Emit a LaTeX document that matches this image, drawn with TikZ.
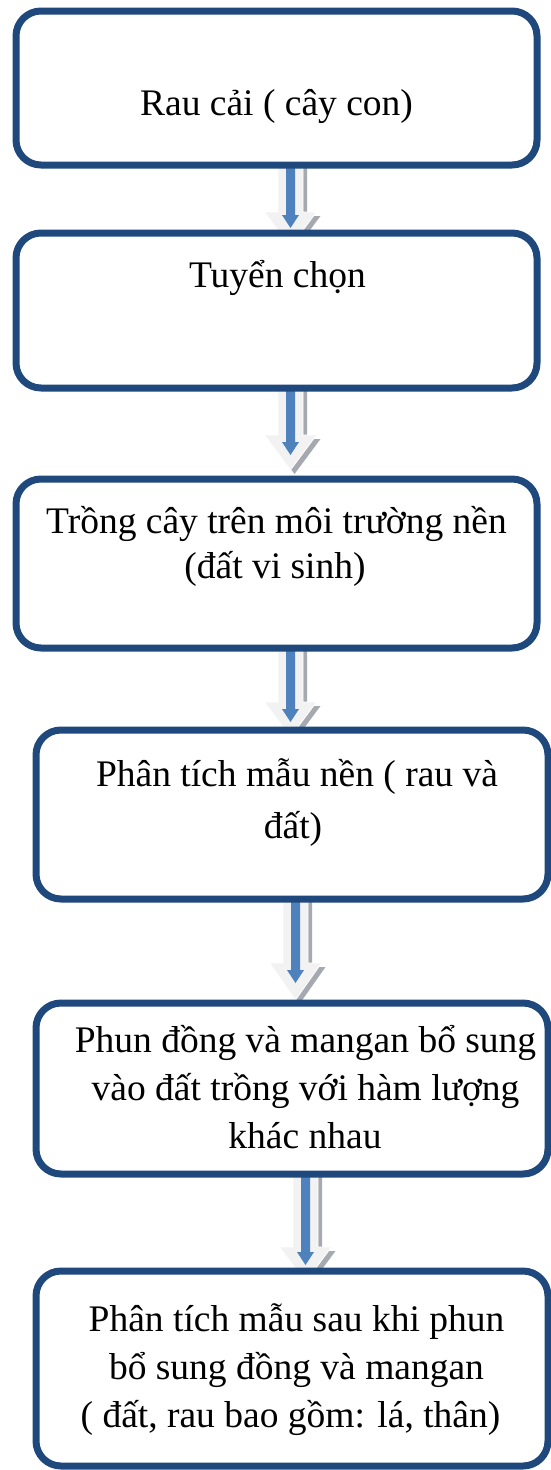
\documentclass[tikz,border=0pt]{standalone}
\usepackage{fontspec}
\setmainfont{Liberation Serif}
\definecolor{boxblue}{HTML}{1F497D}
\definecolor{arrblue}{HTML}{4F81BD}
\definecolor{arrfill}{HTML}{F2F2F2}
\definecolor{arrshadow}{HTML}{A6AAB0}
\newcommand{\flowarrow}[5]{%
  % #1 cx, #2 top, #3 head start, #4 tip, #5 blue tip
  \fill[arrshadow] ({#1-12.5+4},#2) -- ({#1+12.5+4},#2) -- ({#1+12.5+4},{#3+4}) -- ({#1+26+4},{#3+4}) -- ({#1+4},{#4+4}) -- ({#1-26+4},{#3+4}) -- ({#1-12.5+4},{#3+4}) -- cycle;
  \fill[arrfill,draw=white,line width=0.8] ({#1-12.5},#2) -- ({#1+12.5},#2) -- ({#1+12.5},#3) -- ({#1+26},#3) -- (#1,#4) -- ({#1-26},#3) -- ({#1-12.5},#3) -- cycle;
  \fill[arrblue] ({#1-4.5},#2) -- ({#1+4.5},#2) -- ({#1+4.5},{#5-13}) -- ({#1+8.5},{#5-13}) -- (#1,#5) -- ({#1-8.5},{#5-13}) -- ({#1-4.5},{#5-13}) -- cycle;
}
\begin{document}
\begin{tikzpicture}[x=1pt,y=-1pt,
  box/.style={draw=boxblue,line width=7pt,rounded corners=25pt,fill=white,inner sep=0pt,outer sep=0pt},
  txt/.style={anchor=base,inner sep=0pt,font=\fontsize{37.5}{45}\selectfont}]
\useasboundingbox[fill=white] (0,0) rectangle (551,1470);
% arrows (drawn first, boxes cover their tips)
\flowarrow{290.5}{165}{212}{247}{228}
\flowarrow{290.5}{388}{435}{470}{455}
\flowarrow{290.5}{648}{702}{737}{722}
\flowarrow{295.5}{899}{963}{1000}{983}
\flowarrow{305.5}{1174}{1247}{1282}{1265}
% boxes
\node[box,minimum width=521pt,minimum height=154pt] (b1) at (276.5,88) {};
\node[box,minimum width=521pt,minimum height=155pt] (b2) at (276.5,310.5) {};
\node[box,minimum width=521pt,minimum height=169pt] (b3) at (276.5,563.5) {};
\node[box,minimum width=512pt,minimum height=169pt] (b4) at (292,814.5) {};
\node[box,minimum width=512pt,minimum height=171pt] (b5) at (292,1088.5) {};
\node[box,minimum width=512pt,minimum height=195pt] (b6) at (292,1368.5) {};
% texts
\node[txt] (t1) at (276.5,115) {Rau cải ( cây con)};
\node[txt] (t2) at (277.5,287) {Tuyển chọn};
\node[txt] (t3a) at (276.5,533) {Trồng cây trên môi trường nền};
\node[txt] (t3b) at (275,578) {(đất vi sinh)};
\node[txt] (t4a) at (297,786) {Phân tích mẫu nền ( rau và};
\node[txt] (t4b) at (293,838) {đất)};
\node[txt] (t5a) at (305.5,1052) {Phun đồng và mangan bổ sung};
\node[txt] (t5b) at (305.5,1100) {vào đất trồng với hàm lượng};
\node[txt] (t5c) at (305,1148) {khác nhau};
\node[txt] (t6a) at (296.5,1331) {Phân tích mẫu sau khi phun};
\node[txt] (t6b) at (296.5,1379) {bổ sung đồng và mangan};
\node[txt] (t6c) at (290.5,1427) {( đất, rau bao gồm: lá, thân)};
\end{tikzpicture}
\end{document}
